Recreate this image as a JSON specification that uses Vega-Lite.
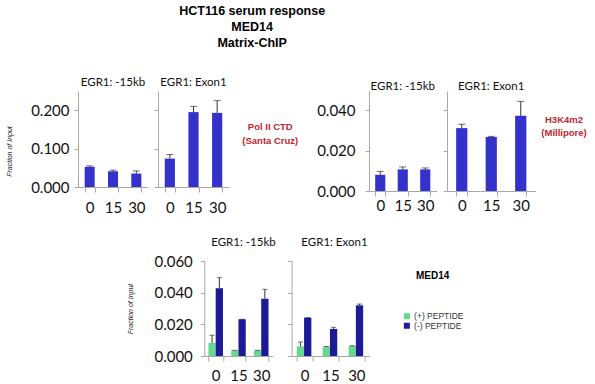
{
  "$schema": "https://vega.github.io/schema/vega-lite/v6.json",
  "padding": 5,
  "title": {"text": ["HCT116 serum response", "MED14", "Matrix-ChIP"], "anchor": "middle", "font": "Liberation Sans", "fontSize": 12.5, "fontWeight": "bold", "color": "#000", "lineHeight": 16, "dx": -44, "offset": 27},
  "datasets": {
    "pol": [
      {"site": "-15kb", "time": "0", "value": 0.0525, "err": 0.055},
      {"site": "-15kb", "time": "15", "value": 0.041, "err": 0.044},
      {"site": "-15kb", "time": "30", "value": 0.035, "err": 0.042},
      {"site": "Exon1", "time": "0", "value": 0.074, "err": 0.0845},
      {"site": "Exon1", "time": "15", "value": 0.195, "err": 0.21},
      {"site": "Exon1", "time": "30", "value": 0.193, "err": 0.225}
    ],
    "h3k": [
      {"site": "-15kb", "time": "0", "value": 0.008, "err": 0.0097},
      {"site": "-15kb", "time": "15", "value": 0.0107, "err": 0.0119},
      {"site": "-15kb", "time": "30", "value": 0.0107, "err": 0.0114},
      {"site": "Exon1", "time": "0", "value": 0.0311, "err": 0.033},
      {"site": "Exon1", "time": "15", "value": 0.0267, "err": 0.027},
      {"site": "Exon1", "time": "30", "value": 0.0372, "err": 0.0443}
    ],
    "med": [
      {"site": "-15kb", "time": "0", "peptide": "(+) PEPTIDE", "value": 0.0082, "err": 0.0131},
      {"site": "-15kb", "time": "0", "peptide": "(-) PEPTIDE", "value": 0.0428, "err": 0.0495},
      {"site": "-15kb", "time": "15", "peptide": "(+) PEPTIDE", "value": 0.0036, "err": 0.0036},
      {"site": "-15kb", "time": "15", "peptide": "(-) PEPTIDE", "value": 0.0232, "err": 0.0232},
      {"site": "-15kb", "time": "30", "peptide": "(+) PEPTIDE", "value": 0.0036, "err": 0.0036},
      {"site": "-15kb", "time": "30", "peptide": "(-) PEPTIDE", "value": 0.0362, "err": 0.0421},
      {"site": "Exon1", "time": "0", "peptide": "(+) PEPTIDE", "value": 0.0061, "err": 0.0088},
      {"site": "Exon1", "time": "0", "peptide": "(-) PEPTIDE", "value": 0.0242, "err": 0.0242},
      {"site": "Exon1", "time": "15", "peptide": "(+) PEPTIDE", "value": 0.0059, "err": 0.006},
      {"site": "Exon1", "time": "15", "peptide": "(-) PEPTIDE", "value": 0.0171, "err": 0.0181},
      {"site": "Exon1", "time": "30", "peptide": "(+) PEPTIDE", "value": 0.0063, "err": 0.0065},
      {"site": "Exon1", "time": "30", "peptide": "(-) PEPTIDE", "value": 0.032, "err": 0.0328}
    ]
  },
  "spacing": 21,
  "vconcat": [
    {
      "bounds": "flush",
      "spacing": 10,
      "hconcat": [
        {
          "width": 70, "height": 96,
          "data": {"name": "pol"},
          "transform": [{"filter": "datum.site == '-15kb'"}],
          "title": {"text": "EGR1: -15kb", "offset": 3},
          "encoding": {
            "x": {"field": "time", "type": "ordinal", "sort": ["0", "15", "30"], "scale": {"paddingInner": 0.57, "paddingOuter": 0.285}, "axis": {"labelPadding": 8}},
            "y": {"field": "value", "type": "quantitative", "scale": {"domain": [0, 0.25], "nice": false}, "axis": {"values": [0, 0.1, 0.2], "format": ".3f", "title": "Fraction of Input", "titleFont": "Liberation Sans", "titleFontStyle": "italic", "titleFontWeight": "normal", "titleFontSize": 7, "titleColor": "#222", "titlePadding": 18, "titleY": 60, "labelPadding": 5}}
          },
          "layer": [
            {"mark": {"type": "bar", "color": "#3333cc"}},
            {"mark": {"type": "rule", "color": "#333333", "strokeWidth": 1}, "encoding": {"y2": {"field": "err"}}},
            {"mark": {"type": "tick", "color": "#333333", "size": 7, "thickness": 1}, "encoding": {"y": {"field": "err", "type": "quantitative", "scale": {"domain": [0, 0.25], "nice": false}, "axis": {"values": [0, 0.1, 0.2], "format": ".3f", "title": "Fraction of Input", "titleFont": "Liberation Sans", "titleFontStyle": "italic", "titleFontWeight": "normal", "titleFontSize": 7, "titleColor": "#222", "titlePadding": 18, "titleY": 60, "labelPadding": 5}}}}
          ]
        },
        {
          "width": 71, "height": 96,
          "data": {"name": "pol"},
          "transform": [{"filter": "datum.site == 'Exon1'"}],
          "title": {"text": "EGR1: Exon1", "offset": 3},
          "encoding": {
            "x": {"field": "time", "type": "ordinal", "sort": ["0", "15", "30"], "scale": {"paddingInner": 0.57, "paddingOuter": 0.285}, "axis": {"labelPadding": 8}},
            "y": {"field": "value", "type": "quantitative", "scale": {"domain": [0, 0.25], "nice": false}, "axis": {"values": [0, 0.1, 0.2], "labels": false, "title": null}}
          },
          "layer": [
            {"mark": {"type": "bar", "color": "#3333cc"}},
            {"mark": {"type": "rule", "color": "#333333", "strokeWidth": 1}, "encoding": {"y2": {"field": "err"}}},
            {"mark": {"type": "tick", "color": "#333333", "size": 7, "thickness": 1}, "encoding": {"y": {"field": "err", "type": "quantitative", "scale": {"domain": [0, 0.25], "nice": false}, "axis": {"values": [0, 0.1, 0.2], "labels": false, "title": null}}}}
          ]
        },
        {
          "width": 62.6, "height": 72,
          "data": {"values": [{"label": "Pol II CTD\n(Santa Cruz)"}]},
          "mark": {"type": "text", "lineBreak": "\n", "font": "Liberation Sans", "fontWeight": "bold", "fontSize": 9.5, "color": "#c0272d", "lineHeight": 13.5},
          "encoding": {"text": {"field": "label"}}
        },
        {"width": 46.7, "height": 1, "data": {"values": []}, "mark": "text", "encoding": {}},
        {
          "width": 67.5, "height": 100,
          "data": {"name": "h3k"},
          "transform": [{"filter": "datum.site == '-15kb'"}],
          "title": {"text": "EGR1: -15kb", "offset": -1},
          "encoding": {
            "x": {"field": "time", "type": "ordinal", "sort": ["0", "15", "30"], "scale": {"paddingInner": 0.55, "paddingOuter": 0.275}, "axis": {"labelPadding": 2}},
            "y": {"field": "value", "type": "quantitative", "scale": {"domain": [0, 0.04944], "nice": false}, "axis": {"values": [0, 0.02, 0.04], "format": ".3f", "title": null, "labelPadding": 10}}
          },
          "layer": [
            {"mark": {"type": "bar", "color": "#3333cc"}},
            {"mark": {"type": "rule", "color": "#333333", "strokeWidth": 1}, "encoding": {"y2": {"field": "err"}}},
            {"mark": {"type": "tick", "color": "#333333", "size": 7, "thickness": 1}, "encoding": {"y": {"field": "err", "type": "quantitative", "scale": {"domain": [0, 0.04944], "nice": false}, "axis": {"values": [0, 0.02, 0.04], "format": ".3f", "title": null, "labelPadding": 10}}}}
          ]
        },
        {
          "width": 88.5, "height": 100,
          "data": {"name": "h3k"},
          "transform": [{"filter": "datum.site == 'Exon1'"}],
          "title": {"text": "EGR1: Exon1", "offset": -1},
          "encoding": {
            "x": {"field": "time", "type": "ordinal", "sort": ["0", "15", "30"], "scale": {"paddingInner": 0.62, "paddingOuter": 0.31}, "axis": {"labelPadding": 2}},
            "y": {"field": "value", "type": "quantitative", "scale": {"domain": [0, 0.04944], "nice": false}, "axis": {"values": [0, 0.02, 0.04], "labels": false, "title": null}}
          },
          "layer": [
            {"mark": {"type": "bar", "color": "#3333cc"}},
            {"mark": {"type": "rule", "color": "#333333", "strokeWidth": 1}, "encoding": {"y2": {"field": "err"}}},
            {"mark": {"type": "tick", "color": "#333333", "size": 7, "thickness": 1}, "encoding": {"y": {"field": "err", "type": "quantitative", "scale": {"domain": [0, 0.04944], "nice": false}, "axis": {"values": [0, 0.02, 0.04], "labels": false, "title": null}}}}
          ]
        },
        {
          "width": 36, "height": 57,
          "data": {"values": [{"label": "H3K4m2\n(Millipore)"}]},
          "mark": {"type": "text", "lineBreak": "\n", "font": "Liberation Sans", "fontWeight": "bold", "fontSize": 9.5, "color": "#c0272d", "lineHeight": 13.5},
          "encoding": {"text": {"field": "label"}}
        }
      ]
    },
    {
      "bounds": "flush",
      "spacing": 18.3,
      "resolve": {"scale": {"color": "independent"}},
      "hconcat": [
        {"width": 108, "height": 1, "data": {"values": []}, "mark": "text", "encoding": {}},
        {
          "width": 68.3, "height": 95,
          "data": {"name": "med"},
          "transform": [{"filter": "datum.site == '-15kb'"}],
          "title": {"text": "EGR1: -15kb", "offset": 6, "dx": 5},
          "encoding": {
            "x": {"field": "time", "type": "ordinal", "sort": ["0", "15", "30"], "scale": {"paddingInner": 0.36, "paddingOuter": 0.18}, "axis": {"labelPadding": 7}},
            "xOffset": {"field": "peptide", "type": "nominal", "sort": ["(+) PEPTIDE", "(-) PEPTIDE"]},
            "y": {"field": "value", "type": "quantitative", "scale": {"domain": [0, 0.06], "nice": false}, "axis": {"values": [0, 0.02, 0.04, 0.06], "format": ".3f", "title": "Fraction of Input", "titleFont": "Liberation Sans", "titleFontStyle": "italic", "titleFontWeight": "normal", "titleFontSize": 7, "titleColor": "#222", "titlePadding": 20, "labelPadding": 8}},
            "color": {"field": "peptide", "type": "nominal", "scale": {"domain": ["(+) PEPTIDE", "(-) PEPTIDE"], "range": ["#66d98f", "#1c1a96"]}, "legend": null}
          },
          "layer": [
            {"mark": {"type": "bar"}},
            {"mark": {"type": "rule", "color": "#333333", "strokeWidth": 1}, "encoding": {"y2": {"field": "err"}, "color": {"value": "#333333"}}},
            {"mark": {"type": "tick", "color": "#333333", "size": 5, "thickness": 1}, "encoding": {"y": {"field": "err", "type": "quantitative", "scale": {"domain": [0, 0.06], "nice": false}, "axis": {"values": [0, 0.02, 0.04, 0.06], "format": ".3f", "title": "Fraction of Input", "titleFont": "Liberation Sans", "titleFontStyle": "italic", "titleFontWeight": "normal", "titleFontSize": 7, "titleColor": "#222", "titlePadding": 20, "labelPadding": 8}}, "color": {"value": "#333333"}}}
          ]
        },
        {
          "width": 77.7, "height": 95,
          "data": {"name": "med"},
          "transform": [{"filter": "datum.site == 'Exon1'"}],
          "title": {"text": "EGR1: Exon1", "offset": 12.5, "dx": 4},
          "encoding": {
            "x": {"field": "time", "type": "ordinal", "sort": ["0", "15", "30"], "scale": {"paddingInner": 0.4, "paddingOuter": 0.2}, "axis": {"labelPadding": 7}},
            "xOffset": {"field": "peptide", "type": "nominal", "sort": ["(+) PEPTIDE", "(-) PEPTIDE"]},
            "y": {"field": "value", "type": "quantitative", "scale": {"domain": [0, 0.06], "nice": false}, "axis": {"values": [0, 0.02, 0.04, 0.06], "labels": false, "title": null}},
            "color": {"field": "peptide", "type": "nominal", "scale": {"domain": ["(+) PEPTIDE", "(-) PEPTIDE"], "range": ["#66d98f", "#1c1a96"]}, "legend": {"title": "MED14", "orient": "none", "legendX": 111, "legendY": 10, "padding": 0, "titleFont": "Liberation Sans", "titleFontSize": 10, "titleFontWeight": "bold", "titleColor": "#000", "titleAnchor": "middle", "titlePadding": 31, "labelFont": "Liberation Sans", "labelFontSize": 8.5, "labelColor": "#333", "labelOffset": 3, "symbolType": "square", "symbolSize": 36, "symbolStrokeWidth": 0, "rowPadding": 0.5}}
          },
          "layer": [
            {"mark": {"type": "bar"}},
            {"mark": {"type": "rule", "color": "#333333", "strokeWidth": 1}, "encoding": {"y2": {"field": "err"}, "color": {"value": "#333333"}}},
            {"mark": {"type": "tick", "color": "#333333", "size": 5, "thickness": 1}, "encoding": {"y": {"field": "err", "type": "quantitative", "scale": {"domain": [0, 0.06], "nice": false}, "axis": {"values": [0, 0.02, 0.04, 0.06], "labels": false, "title": null}}, "color": {"value": "#333333"}}}
          ]
        }
      ]
    }
  ],
  "config": {
    "view": {"stroke": null},
    "font": "Lato",
    "title": {"font": "Lato", "fontSize": 11.5, "fontWeight": "normal", "color": "#111", "anchor": "middle"},
    "axis": {"domainColor": "#a8a8a8", "tickColor": "#a8a8a8", "labelFont": "Lato", "labelFontSize": 15, "labelColor": "#111", "grid": false, "tickSize": 4},
    "axisX": {"tickBand": "extent", "labelAngle": 0, "tickSize": 5, "title": null}
  }
}
